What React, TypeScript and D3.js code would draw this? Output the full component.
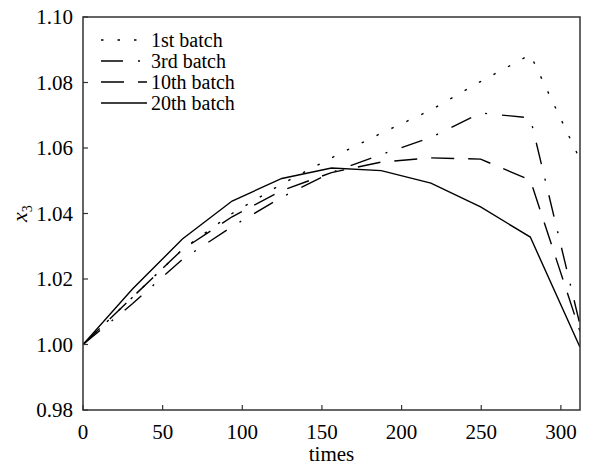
import React from "react";
import * as d3 from "d3";

const times = [0, 31.2, 62.4, 93.6, 124.8, 156, 187.2, 218.4, 249.6, 280.8, 312];
const batch1 = [1.0, 1.0145, 1.029, 1.04, 1.049, 1.057, 1.0645, 1.0716, 1.0803, 1.0885, 1.0565];
const batch3 = [1.0, 1.0125, 1.026, 1.036, 1.045, 1.0525, 1.058, 1.0632, 1.0707, 1.0692, 1.006];
const batch10 = [1.0, 1.0145, 1.029, 1.039, 1.047, 1.0525, 1.0557, 1.057, 1.0566, 1.0502, 1.004];
const batch20 = [1.0, 1.017, 1.0322, 1.0438, 1.0507, 1.0539, 1.0531, 1.0493, 1.042, 1.0328, 0.9992];
const seriesNames = ["1st batch", "3rd batch", "10th batch", "20th batch"];
const xTicks = [0, 50, 100, 150, 200, 250, 300];
const yTicks = [0.98, 1.0, 1.02, 1.04, 1.06, 1.08, 1.1];

const dashes = ["2.5,14", "22,15,2,15", "23,14", ""];

export default function App() {
  const W = 589, H = 466;
  const left = 83, right = 580, top = 17, bottom = 410;
  const x = d3.scaleLinear().domain([0, 312]).range([left, right]);
  const y = d3.scaleLinear().domain([0.98, 1.1]).range([bottom, top]);
  const line = d3.line<number>().x((_, i) => x(times[i])).y((d) => y(d));
  const all = [batch1, batch3, batch10, batch20];
  const font = "'Liberation Serif', 'Times New Roman', serif";
  const axisColor = "#333";
  return (
    <svg width={W} height={H} style={{ position: "absolute", left: 0, top: 0, background: "#fff" }} fontFamily={font}>
      <rect x={0} y={0} width={W} height={H} fill="#fff" />
      <defs>
        <clipPath id="plotclip">
          <rect x={left} y={top} width={right - left} height={bottom - top} />
        </clipPath>
      </defs>
      <g clipPath="url(#plotclip)">
        {all.map((s, i) => (
          <path key={i} d={line(s) || ""} fill="none" stroke="#000" strokeWidth={1.4} strokeDasharray={dashes[i]} />
        ))}
      </g>
      <rect x={left} y={top} width={right - left} height={bottom - top} fill="none" stroke={axisColor} strokeWidth={1.5} />
      {yTicks.map((t) => (
        <g key={"y" + t}>
          <line x1={left} x2={left + 5} y1={y(t)} y2={y(t)} stroke={axisColor} strokeWidth={1.2} />
          <text x={left - 10} y={y(t)} dy="0.35em" textAnchor="end" fontSize={21}>{t.toFixed(2)}</text>
        </g>
      ))}
      {xTicks.map((t) => (
        <g key={"x" + t}>
          <line x1={x(t)} x2={x(t)} y1={bottom} y2={bottom - 5} stroke={axisColor} strokeWidth={1.2} />
          <text x={x(t)} y={bottom + 29} textAnchor="middle" fontSize={21}>{t}</text>
        </g>
      ))}
      <text x={(left + right) / 2} y={461} textAnchor="middle" fontSize={21}>times</text>
      <text transform={`translate(27,${(top + bottom) / 2}) rotate(-90)`} textAnchor="middle" fontSize={22}>
        <tspan fontStyle="italic">x</tspan>
        <tspan fontSize={14} dy={5}>3</tspan>
      </text>
      {seriesNames.map((n, i) => {
        const ly = 40 + i * 21;
        return (
          <g key={n}>
            <line x1={101} x2={147} y1={ly} y2={ly} stroke="#000" strokeWidth={1.4} strokeDasharray={dashes[i]} />
            <text x={151} y={ly} dy="0.35em" fontSize={20}>{n}</text>
          </g>
        );
      })}
    </svg>
  );
}
